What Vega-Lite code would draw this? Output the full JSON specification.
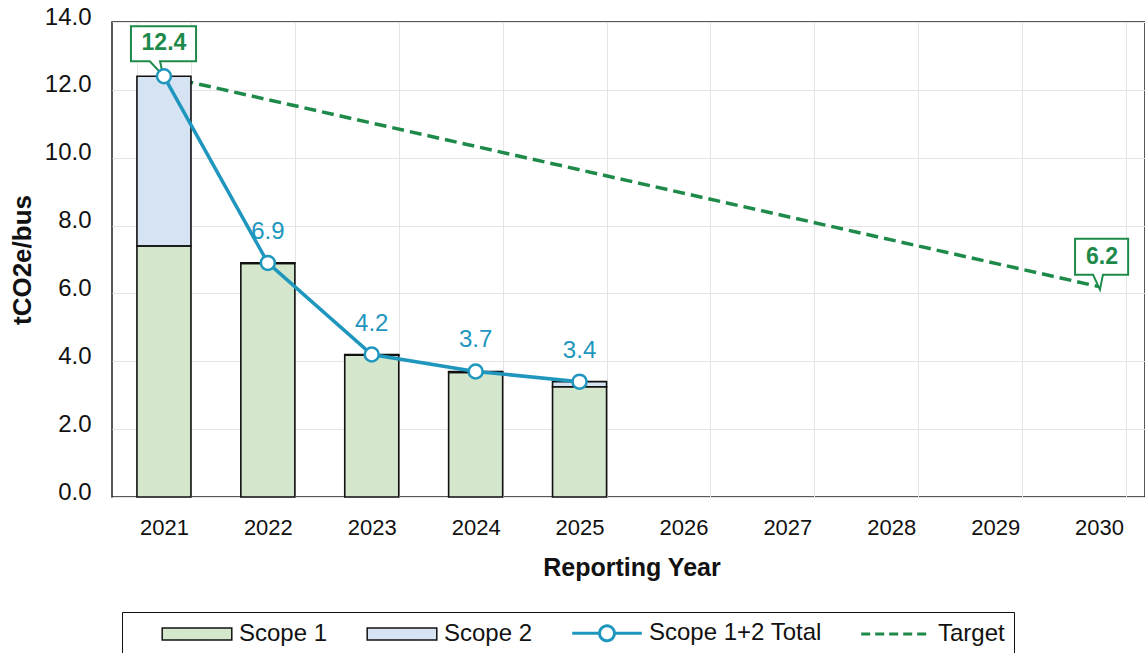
{
  "$schema": "https://vega.github.io/schema/vega-lite/v6.json",
  "autosize": "none",
  "width": 1033,
  "height": 475,
  "padding": {"left": 112, "top": 22, "right": 0, "bottom": 156},
  "background": "white",
  "config": {
    "view": {"stroke": "#222222", "strokeWidth": 1.5},
    "font": "Liberation Sans"
  },
  "datasets": {
    "bars": [
      {"year": "2021", "series": "Scope 1", "value": 7.4},
      {"year": "2021", "series": "Scope 2", "value": 5.0},
      {"year": "2022", "series": "Scope 1", "value": 6.88},
      {"year": "2022", "series": "Scope 2", "value": 0.02},
      {"year": "2023", "series": "Scope 1", "value": 4.18},
      {"year": "2023", "series": "Scope 2", "value": 0.02},
      {"year": "2024", "series": "Scope 1", "value": 3.67},
      {"year": "2024", "series": "Scope 2", "value": 0.03},
      {"year": "2025", "series": "Scope 1", "value": 3.25},
      {"year": "2025", "series": "Scope 2", "value": 0.15}
    ],
    "total": [
      {"year": "2021", "value": 12.4},
      {"year": "2022", "value": 6.9},
      {"year": "2023", "value": 4.2},
      {"year": "2024", "value": 3.7},
      {"year": "2025", "value": 3.4}
    ],
    "target": [
      {"year": "2021", "value": 12.4},
      {"year": "2030", "value": 6.2}
    ]
  },
  "encoding": {
    "x": {
      "field": "year",
      "type": "ordinal",
      "scale": {
        "type": "band",
        "domain": ["2021", "2022", "2023", "2024", "2025", "2026", "2027", "2028", "2029", "2030"],
        "paddingInner": 0.48,
        "paddingOuter": 0.24,
        "range": [0, 1039]
      },
      "axis": {
        "title": "Reporting Year",
        "titleFontSize": 25,
        "titleFontWeight": "bold",
        "titleColor": "#111111",
        "titlePadding": 17,
        "labelFontSize": 22,
        "labelColor": "#111111",
        "labelAngle": 0,
        "labelPadding": 20,
        "ticks": false,
        "domain": false,
        "grid": true,
        "tickBand": "extent",
        "gridColor": "#e4e4e4",
        "gridWidth": 1
      }
    },
    "y": {
      "field": "value",
      "type": "quantitative",
      "scale": {"domain": [0, 14], "nice": false, "zero": true},
      "axis": {
        "title": "tCO2e/bus",
        "titleFontSize": 26,
        "titleFontWeight": "bold",
        "titleColor": "#111111",
        "titlePadding": 9,
        "values": [0, 2, 4, 6, 8, 10, 12, 14],
        "format": ".1f",
        "labelFontSize": 24,
        "labelColor": "#111111",
        "labelPadding": 21,
        "labelOffset": -5,
        "ticks": false,
        "domain": false,
        "grid": true,
        "gridColor": "#e4e4e4",
        "gridWidth": 1
      }
    }
  },
  "layer": [
    {
      "data": {"name": "target"},
      "mark": {"type": "line", "color": "#1e8a4a", "strokeWidth": 3.5, "strokeDash": [12, 6]}
    },
    {
      "data": {"name": "bars"},
      "mark": {"type": "bar", "opacity": 1},
      "encoding": {
        "order": {"field": "series", "sort": "ascending"},
        "color": {
          "field": "series",
          "type": "nominal",
          "scale": {
            "domain": ["Scope 1", "Scope 2", "Scope 1+2 Total", "Target"],
            "range": ["#d4e6cc", "#d5e3f2", "white", "transparent"]
          },
          "legend": {
            "title": null,
            "orient": "none",
            "legendX": 10,
            "legendY": 590,
            "direction": "horizontal",
            "columns": 4,
            "symbolSize": 576,
            "symbolOffset": 54,
            "labelOffset": 30,
            "columnPadding": 8,
            "padding": 9,
            "labelFontSize": 24,
            "labelFont": "Liberation Sans",
            "labelColor": "#111111",
            "labelLimit": 400,
            "strokeColor": "#111111",
            "fillColor": "white",
            "symbolOpacity": 1,
            "symbolType": {"expr": "datum.value === 'Scope 1+2 Total' ? 'M-2.9,0H-0.62M0.62,0H2.9M-0.62,0A0.62,0.62 0 1,0 0.62,0A0.62,0.62 0 1,0 -0.62,0' : datum.value === 'Target' ? 'M-2.9,0H2.9' : 'M-2.9,-0.5H2.9V0.5H-2.9Z'"},
            "symbolStrokeColor": {"expr": "datum.value === 'Scope 1+2 Total' ? '#1e96be' : datum.value === 'Target' ? '#1e8a4a' : '#111111'"},
            "symbolStrokeWidth": {"expr": "(datum.value === 'Scope 1' || datum.value === 'Scope 2') ? 1.5 : 3"},
            "symbolDash": {"expr": "datum.value === 'Target' ? [9, 5] : [1, 0]"}
          }
        }
      }
    },
    {
      "data": {"name": "bars"},
      "mark": {"type": "bar", "fill": "transparent", "stroke": "#111111", "strokeWidth": 1.6},
      "encoding": {
        "y": {"field": "value", "type": "quantitative", "stack": "zero"},
        "detail": {"field": "series", "type": "nominal"},
        "order": {"field": "series", "sort": "ascending"}
      }
    },
    {
      "data": {"name": "target"},
      "transform": [{"filter": "datum.year === '2021'"}],
      "mark": {
        "type": "point",
        "shape": "M-1.1,-1.67H1.07V-0.5H-0.13L-0.03,-0.03L-0.47,-0.5H-1.1Z",
        "size": 3600,
        "filled": true,
        "fill": "white",
        "stroke": "#1e8a4a",
        "strokeWidth": 2,
        "opacity": 1
      }
    },
    {
      "data": {"name": "target"},
      "transform": [{"filter": "datum.year === '2030'"}],
      "mark": {
        "type": "point",
        "shape": "M-0.8,-1.6H0.97V-0.4H0.13L0.03,0.1L-0.2,-0.4H-0.8Z",
        "size": 3600,
        "filled": true,
        "fill": "white",
        "stroke": "#1e8a4a",
        "strokeWidth": 2,
        "opacity": 1
      }
    },
    {
      "data": {"name": "target"},
      "transform": [{"filter": "datum.year === '2021'"}],
      "mark": {"type": "text", "fontSize": 23, "fontWeight": "bold", "color": "#1e8a4a", "dy": -33, "baseline": "middle"},
      "encoding": {"text": {"field": "value", "type": "quantitative", "format": ".1f"}}
    },
    {
      "data": {"name": "target"},
      "transform": [{"filter": "datum.year === '2030'"}],
      "mark": {"type": "text", "fontSize": 23, "fontWeight": "bold", "color": "#1e8a4a", "dx": 3, "dy": -30, "baseline": "middle"},
      "encoding": {"text": {"field": "value", "type": "quantitative", "format": ".1f"}}
    },
    {
      "data": {"name": "total"},
      "mark": {"type": "line", "color": "#1e96be", "strokeWidth": 3.5, "interpolate": "linear"}
    },
    {
      "data": {"name": "total"},
      "mark": {"type": "point", "shape": "circle", "size": 196, "filled": true, "fill": "white", "stroke": "#1e96be", "strokeWidth": 2.5, "opacity": 1}
    },
    {
      "data": {"name": "total"},
      "transform": [{"filter": "datum.year !== '2021'"}],
      "mark": {"type": "text", "fontSize": 24, "color": "#1e96be", "dy": -31, "baseline": "middle"},
      "encoding": {"text": {"field": "value", "type": "quantitative", "format": ".1f"}}
    }
  ]
}
